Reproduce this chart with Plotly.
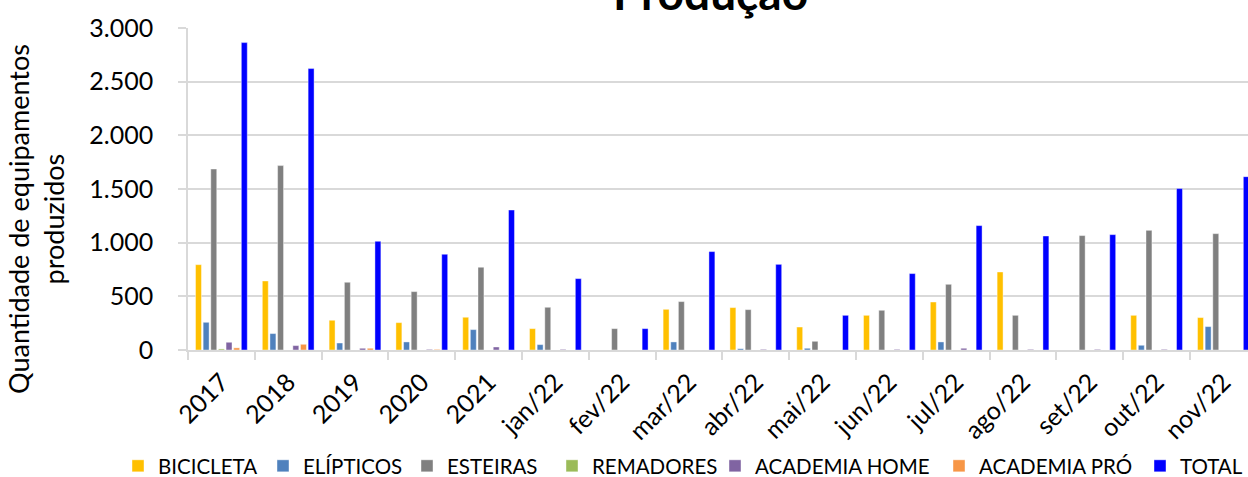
import plotly.graph_objects as go

categories = ["2017", "2018", "2019", "2020", "2021", "jan/22", "fev/22", "mar/22",
              "abr/22", "mai/22", "jun/22", "jul/22", "ago/22", "set/22", "out/22", "nov/22"]

bicicleta = [795, 643, 277, 255, 305, 199, 0, 379, 395, 214, 323, 447, 727, 0, 323, 302]
elipticos = [258, 153, 65, 75, 190, 50, 0, 75, 12, 16, 0, 75, 0, 0, 44, 218]
esteiras = [1686, 1718, 631, 544, 771, 398, 199, 451, 376, 81, 370, 612, 323, 1066, 1115, 1084]
remadores = [10, 0, 0, 0, 0, 0, 0, 0, 0, 0, 0, 0, 0, 0, 0, 0]
academia_home = [72, 41, 16, 6, 28, 6, 0, 0, 6, 0, 6, 16, 6, 6, 6, 0]
academia_pro = [20, 53, 16, 6, 0, 0, 0, 0, 0, 0, 0, 0, 0, 0, 0, 0]
total = [2864, 2622, 1013, 892, 1304, 665, 199, 917, 798, 323, 712, 1159, 1062, 1075, 1504, 1615]

series = [
    ("BICICLETA", bicicleta, "#FFC000"),
    ("ELÍPTICOS", elipticos, "#4F81BD"),
    ("ESTEIRAS", esteiras, "#808080"),
    ("REMADORES", remadores, "#9BBB59"),
    ("ACADEMIA HOME", academia_home, "#8064A2"),
    ("ACADEMIA PRÓ", academia_pro, "#F79646"),
    ("TOTAL", total, "#0000FF"),
]

# left edge (px) of each legend entry's text in the reference
legend_text_x = [155, 300, 444, 589, 752, 976, 1177]

FONT = "Lato"
W, H = 1248, 477
ML, MR, MT, MB = 188, 0, 28, 127
PW, PH = W - ML - MR, H - MT - MB

fig = go.Figure()
legend_layouts = {}
for i, (name, vals, col) in enumerate(series):
    key = "legend" if i == 0 else f"legend{i + 1}"
    fig.add_trace(go.Bar(
        name=name, x=categories, y=vals, legend=key,
        marker=dict(color=col, line=dict(color="rgba(255,255,255,0.7)", width=0.6)),
    ))
    legend_layouts[key] = dict(
        orientation="h", xref="container", yref="container",
        x=(legend_text_x[i] - 37) / W, y=(H - 466) / H,
        xanchor="left", yanchor="middle",
        font=dict(family=FONT, size=20.5, color="#000000"),
        itemwidth=30, bgcolor="rgba(0,0,0,0)", borderwidth=0,
    )

cat_w = 66.8
xmax = -0.5 + PW / cat_w

def px_x(p):
    return (p - ML) / PW

def px_y(p):
    return (H - MB - p) / PH

fig.update_layout(
    width=W, height=H,
    margin=dict(l=ML, r=MR, t=MT, b=MB, pad=0, autoexpand=False),
    paper_bgcolor="white", plot_bgcolor="white",
    barmode="group", bargap=0.2, bargroupgap=0.22,
    separators=",.",
    font=dict(family=FONT, color="#000000"),
    showlegend=True,
    xaxis=dict(
        type="category", range=[-0.5, xmax], automargin=False,
        showgrid=False, showline=True, linecolor="#D9D9D9", linewidth=1.5,
        ticks="outside", tickson="boundaries", ticklen=8, tickcolor="#D9D9D9", tickwidth=1.5,
        tickangle=-45, tickfont=dict(family=FONT, size=25, color="#000000"),
        ticklabelstandoff=6,
    ),
    yaxis=dict(
        range=[0, 3000], dtick=500, tickformat=",d", automargin=False,
        showgrid=True, gridcolor="#D9D9D9", gridwidth=1.5,
        showline=True, linecolor="#D9D9D9", linewidth=1.5,
        ticks="outside", ticklen=8, tickcolor="#D9D9D9", tickwidth=1.5,
        tickfont=dict(family=FONT, size=25, color="#000000"),
        ticklabelstandoff=20, zeroline=False,
    ),
    annotations=[
        dict(text="<b>Produção</b>", xref="paper", yref="paper",
             x=px_x(710), y=px_y(-8), xanchor="center", yanchor="middle",
             showarrow=False, font=dict(family=FONT, size=46, color="#000000")),
        dict(text="Quantidade de equipamentos<br>produzidos", xref="paper", yref="paper",
             x=px_x(36), y=px_y(219), xanchor="center", yanchor="middle", textangle=-90,
             showarrow=False, align="center",
             font=dict(family=FONT, size=27, color="#000000")),
    ],
    **legend_layouts,
)

fig.write_html(
    "out.html",
    config={"displayModeBar": False},
    post_script="document.body.style.margin='0';document.body.style.padding='0';",
)
